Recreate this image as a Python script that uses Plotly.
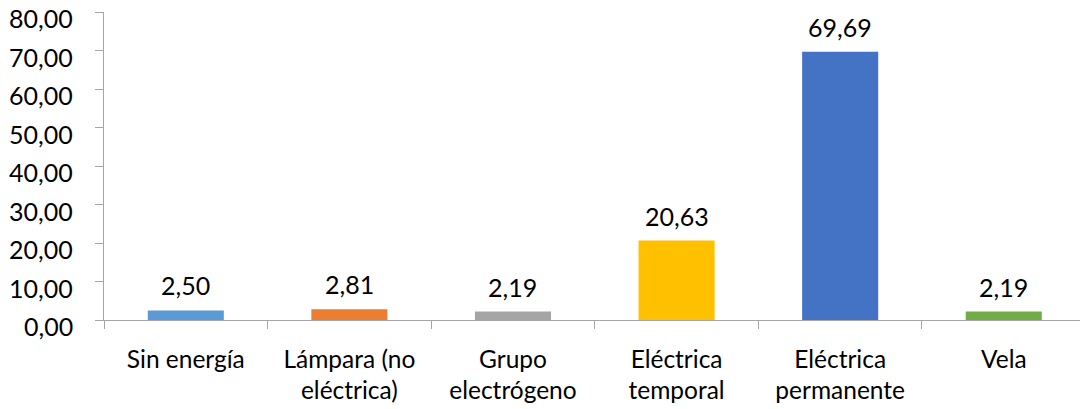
import plotly.graph_objects as go

categorias = ["Sin energía", "Lámpara (no<br>eléctrica)", "Grupo<br>electrógeno",
              "Eléctrica<br>temporal", "Eléctrica<br>permanente", "Vela"]
porcentajes = [2.50, 2.81, 2.19, 20.63, 69.69, 2.19]
colores = ["#5B9BD5", "#ED7D31", "#A5A5A5", "#FFC000", "#4472C4", "#70AD47"]
y_ticks = [0, 10, 20, 30, 40, 50, 60, 70, 80]

FONT = "Lato"
SIZE = 25
eje = "#A6A6A6"


def coma(v):
    return f"{v:.2f}".replace(".", ",")


fig = go.Figure(go.Bar(
    x=categorias,
    y=porcentajes,
    marker=dict(color=colores, line=dict(width=0)),
    width=0.465,
    hovertemplate="%{y:.2f}<extra></extra>",
))

# value labels above each bar
for c, v in zip(categorias, porcentajes):
    fig.add_annotation(
        x=c, y=v, text=coma(v), showarrow=False,
        yanchor="bottom", yshift=8,
        font=dict(family=FONT, size=SIZE, color="#000000"),
    )

# y-axis tick labels, set slightly below their tick marks
for t in y_ticks:
    fig.add_annotation(
        xref="paper", x=0, y=t, text=coma(t), showarrow=False,
        xanchor="right", yanchor="middle", xshift=-29, yshift=-6,
        font=dict(family=FONT, size=SIZE, color="#000000"),
    )

fig.update_layout(
    width=1080, height=409,
    margin=dict(l=104, r=0, t=12, b=89),
    paper_bgcolor="white", plot_bgcolor="white",
    showlegend=False,
    font=dict(family=FONT, size=SIZE, color="#000000"),
)

fig.update_xaxes(
    type="category",
    range=[-0.5, 5.466],
    automargin=False,
    showline=True, linecolor=eje, linewidth=1.3,
    ticks="outside", tickson="boundaries", ticklen=8, tickcolor=eje, tickwidth=1.3,
    showgrid=False, zeroline=False,
    ticklabelstandoff=17,
    tickfont=dict(family=FONT, size=24.5, color="#000000"),
)

fig.update_yaxes(
    range=[0, 80.02],
    automargin=False,
    tickvals=y_ticks, showticklabels=False,
    showline=True, linecolor=eje, linewidth=1.3,
    ticks="outside", ticklen=8, tickcolor=eje, tickwidth=1.3,
    showgrid=False, zeroline=False,
)

fig.write_html("out.html")
